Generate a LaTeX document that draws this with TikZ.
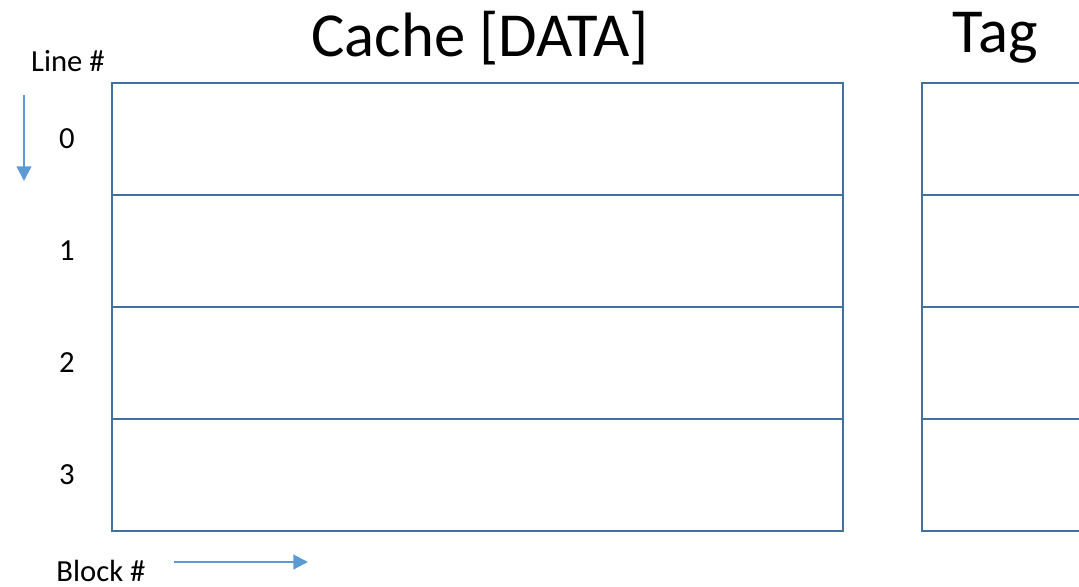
\documentclass[tikz,border=0pt]{standalone}
\usepackage{fontspec}
\setmainfont{Carlito}
\usetikzlibrary{arrows.meta}
\definecolor{boxblue}{HTML}{41719C}
\definecolor{arrblue}{HTML}{5B9BD5}
\begin{document}
\begin{tikzpicture}[x=0.75pt,y=-0.75pt,
  cell/.style={draw=boxblue,line width=1.8pt},
  lbl/.style={font=\fontsize{23}{26}\selectfont,inner sep=0pt},
  ttl/.style={font=\fontsize{47}{50}\selectfont,inner sep=0pt},
  arr/.style={draw=arrblue,line width=1.6pt,-{Triangle[length=11pt,width=11pt]}}]
\useasboundingbox (0,0) rectangle (1079,586);
\clip (0,0) rectangle (1079,586);
% titles
\node[ttl] (t1) at (480,38) {Cache [DATA]};
\node[ttl] (t2) at (995,38) {Tag};
% data rows
\foreach \i/\y in {0/83,1/195,2/307,3/419}{
  \pgfmathtruncatemacro\yy{\y+112}
  \draw[cell] (112,\y) rectangle (843,\yy);
  \draw[cell] (922,\y) rectangle (1100,\yy);
  \node[lbl] (n\i) at (67,\y+56) {\i};
}
% axis labels
\node[lbl] (ln) at (68,61) {Line \#};
\node[lbl] (bn) at (101,571) {Block \#};
\coordinate (a1) at (24,95);
\coordinate (a2) at (24,181);
\coordinate (b1) at (174,562);
\coordinate (b2) at (308,562);
\draw[arr] (a1) -- (a2);
\draw[arr] (b1) -- (b2);
\end{tikzpicture}
\end{document}
